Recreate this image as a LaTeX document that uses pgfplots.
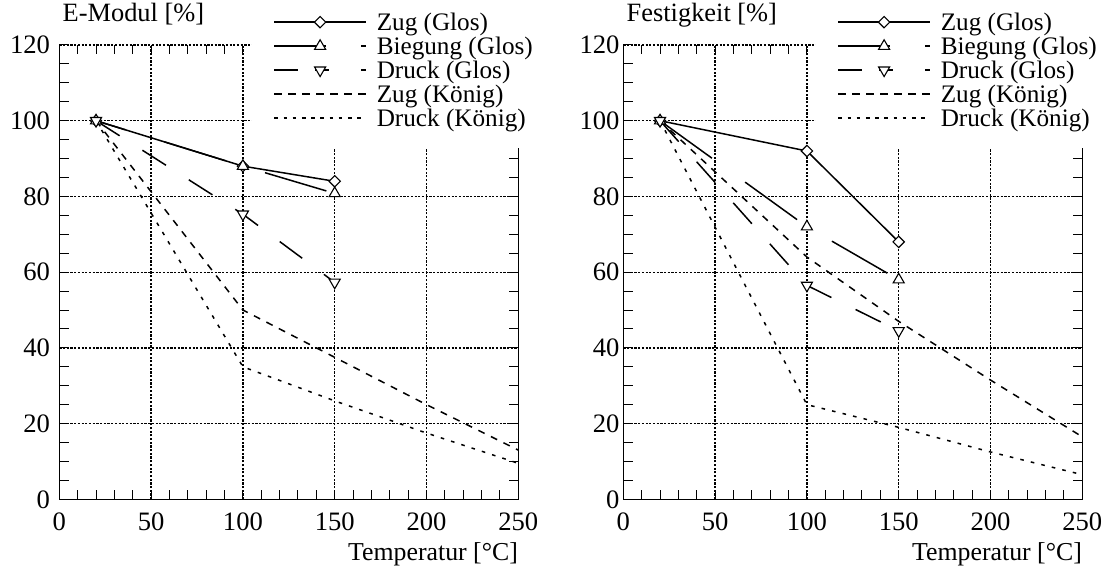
\documentclass[border=0pt]{standalone}
\usepackage{fontspec}
\setmainfont{Liberation Serif}
\usepackage{pgfplots}
\pgfplotsset{compat=1.18}

\pgfplotsset{
  myaxis/.style={
    scale only axis,
    width=229.5pt, height=227.15pt,
    xmin=0, xmax=250, ymin=0, ymax=120,
    xtick={0,50,...,250}, ytick={0,20,...,120},
    minor x tick num=4, minor y tick num=3,
    major tick length=4.7pt, minor tick length=4.7pt,
    every tick/.style={black, line width=0.5pt},
    grid=major,
    major grid style={black, line width=0.65pt, dash pattern=on 1.1pt off 0.75pt},
    axis line style={draw=none},
    clip=false,
    /pgf/number format/assume math mode=true,
    ticklabel style={font=\fontsize{13.3}{15}\selectfont},
    xticklabel style={yshift=-3.4pt},
    xlabel={Temperatur [°C]},
    xlabel style={at={(axis description cs:1,0)}, anchor=base east, yshift=-30.35pt, inner sep=0pt, font=\fontsize{12.9}{15}\selectfont},
    title style={at={(axis description cs:0,1)}, anchor=base west, xshift=1.5pt, yshift=5.85pt, inner sep=0pt, font=\fontsize{13.2}{15}\selectfont},
    legend cell align=left,
    legend style={at={(axis description cs:0.418,0.772)}, anchor=south west, fill=white, draw=none,
      inner xsep=11pt, inner ysep=8.2pt, font=\fontsize{12.6}{14}\selectfont,
      row sep=0.8pt, column sep=5pt,
      nodes={inner sep=0pt, text height=8.6pt, text depth=2.6pt}},
  },
  zugG/.style={black, solid, line width=0.75pt, mark=square*, mark size=2pt,
    mark options={rotate=45, solid, fill=white, line width=0.55pt},
    legend image code/.code={
      \draw[solid, line width=0.75pt] (0pt,1.2pt) -- (45.8pt,1.2pt);
      \draw plot[only marks, mark=square*, mark size=2pt, mark options={rotate=45, solid, fill=white, line width=0.55pt}] coordinates {(22.9pt,1.2pt)};}},
  biegG/.style={black, line width=0.75pt, dash pattern=on 32pt off 20.5pt, mark=triangle*, mark size=3.2pt,
    mark options={solid, fill=white, line width=0.55pt},
    legend image code/.code={
      \draw[solid, line width=0.75pt] (0pt,1.2pt) -- (25.85pt,1.2pt);
      \draw[solid, line width=0.75pt] (43.35pt,1.2pt) -- (45.85pt,1.2pt);
      \draw plot[only marks, mark=triangle*, mark size=3.2pt, mark options={solid, fill=white, line width=0.55pt}] coordinates {(22.9pt,1.2pt)};}},
  druckG/.style={black, line width=0.75pt, dash pattern=on 14pt off 13.5pt, mark=triangle*, mark size=3.2pt,
    mark options={solid, fill=white, line width=0.55pt, rotate=180},
    legend image code/.code={
      \draw[solid, line width=0.75pt] (0pt,1.2pt) -- (11.67pt,1.2pt);
      \draw[solid, line width=0.75pt] (20.5pt,1.2pt) -- (27.5pt,1.2pt);
      \draw[solid, line width=0.75pt] (43.35pt,1.2pt) -- (45.85pt,1.2pt);
      \draw plot[only marks, mark=triangle*, mark size=3.2pt, mark options={solid, fill=white, line width=0.55pt, rotate=180}] coordinates {(22.9pt,1.2pt)};}},
  zugK/.style={black, line width=0.75pt, dash pattern=on 3.5pt off 3.5pt, no markers,
    legend image code/.code={\draw[dash pattern=on 3.6pt off 3.4pt, line width=0.75pt] (0pt,1.2pt) -- (45.8pt,1.2pt);}},
  druckK/.style={black, line width=0.75pt, dash pattern=on 1.8pt off 3.6pt, no markers,
    legend image code/.code={\draw[dash pattern=on 1.8pt off 2.8pt, line width=0.75pt] (0pt,1.2pt) -- (45.8pt,1.2pt);}},
}

\begin{document}
\begin{tikzpicture}
\path[use as bounding box] (0,0) rectangle (552.5pt,284.5pt);

\begin{axis}[myaxis, at={(29.65pt,34.85pt)}, anchor=south west,
  title={E-Modul [\%]}, yticklabel style={xshift=-1.1pt}]
\draw[line width=0.8pt] (rel axis cs:0,1) -- (rel axis cs:0,0) -- (rel axis cs:1,0) -- (rel axis cs:1,1);
\addplot[zugG] coordinates {(20,100) (100,88) (150,84)};
\addlegendentry{Zug (Glos)}
\addplot[biegG, dash phase=16.6pt] coordinates {(20,100) (100,88) (150,80.8)};
\addlegendentry{Biegung (Glos)}
\addplot[druckG] coordinates {(20,100) (100,75.3) (150,57.3)};
\addlegendentry{Druck (Glos)}
\addplot[zugK] coordinates {(20,100) (100,50) (150,37.5) (200,25) (250,13)};
\addlegendentry{Zug (König)}
\addplot[druckK] coordinates {(20,100) (100,35) (150,26) (200,17.5) (250,9.5)};
\addlegendentry{Druck (König)}
\end{axis}

\begin{axis}[myaxis, at={(311.65pt,34.85pt)}, anchor=south west,
  title={Festigkeit [\%]}, yticklabel style={xshift=1.6pt}]
\draw[line width=0.8pt] (rel axis cs:0,1) -- (rel axis cs:0,0) -- (rel axis cs:1,0) -- (rel axis cs:1,1);
\addplot[zugG] coordinates {(20,100) (100,92) (150,68)};
\addlegendentry{Zug (Glos)}
\addplot[biegG] coordinates {(20,100) (100,72) (150,58)};
\addlegendentry{Biegung (Glos)}
\addplot[druckG] coordinates {(20,100) (100,56.5) (150,44.5)};
\addlegendentry{Druck (Glos)}
\addplot[zugK] coordinates {(20,100) (100,64) (150,47) (200,31.5) (250,16.5)};
\addlegendentry{Zug (König)}
\addplot[druckK] coordinates {(20,100) (100,25) (150,19) (200,12.5) (250,6.5)};
\addlegendentry{Druck (König)}
\end{axis}
\end{tikzpicture}
\end{document}
